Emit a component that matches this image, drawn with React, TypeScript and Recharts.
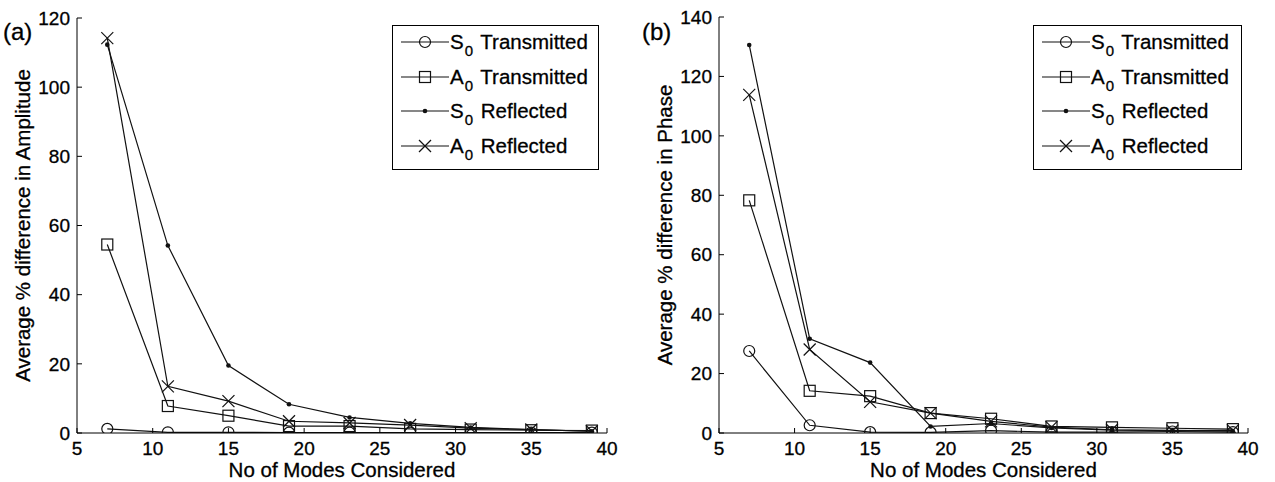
import React from "react";
import { LineChart, Line, XAxis, YAxis, Legend } from "recharts";

// x positions: number of modes considered
const modes = [7, 11, 15, 19, 23, 27, 31, 35, 39];
const xTicks = [5, 10, 15, 20, 25, 30, 35, 40];

// (a) average % difference in amplitude
const ampS0Trans = [1.2, 0.2, 0.2, 0.1, 0.1, 0.1, 0.1, 0.1, 0.1];
const ampA0Trans = [54.5, 7.8, 5.0, 2.0, 2.0, 1.2, 1.0, 0.8, 0.7];
const ampS0Refl = [112.3, 54.2, 19.5, 8.3, 4.5, 2.8, 1.6, 1.0, 0.5];
const ampA0Refl = [114.2, 13.5, 9.2, 3.4, 2.9, 2.3, 1.4, 1.0, 0.5];
const ampTicks = [0, 20, 40, 60, 80, 100, 120];

// (b) average % difference in phase
const phsS0Trans = [27.6, 2.6, 0.3, 0.2, 0.8, 0.3, 0.3, 0.5, 0.3];
const phsA0Trans = [78.3, 14.2, 12.4, 6.7, 4.8, 2.2, 1.9, 1.6, 1.3];
const phsS0Refl = [130.6, 31.7, 23.7, 2.2, 3.2, 1.7, 1.0, 0.9, 0.6];
const phsA0Refl = [113.8, 28.1, 10.5, 6.7, 3.9, 2.0, 1.1, 0.8, 0.9];
const phsTicks = [0, 20, 40, 60, 80, 100, 120, 140];

const seriesKeys = ["s0t", "a0t", "s0r", "a0r"];
const seriesSym = ["S", "A", "S", "A"];
const seriesRest = ["Transmitted", "Transmitted", "Reflected", "Reflected"];
const seriesMarker = ["circle", "square", "dot", "cross"];

const FONT = '"Liberation Sans", Arial, sans-serif';
const INK = "#111";
const SW = 1.2;

function buildRows(vals: number[][]) {
  return modes.map((m, i) => ({
    modes: m,
    s0t: vals[0][i],
    a0t: vals[1][i],
    s0r: vals[2][i],
    a0r: vals[3][i],
  }));
}

function Marker(props: any) {
  const { cx, cy, kind } = props;
  if (cx == null || cy == null) return null;
  if (kind === "circle")
    return <circle cx={cx} cy={cy} r={5.5} fill="none" stroke={INK} strokeWidth={SW} />;
  if (kind === "square")
    return <rect x={cx - 5.5} y={cy - 5.5} width={11} height={11} fill="none" stroke={INK} strokeWidth={SW} />;
  if (kind === "dot") return <circle cx={cx} cy={cy} r={2.3} fill={INK} />;
  return (
    <g stroke={INK} strokeWidth={SW}>
      <line x1={cx - 6} y1={cy - 6} x2={cx + 6} y2={cy + 6} />
      <line x1={cx - 6} y1={cy + 6} x2={cx + 6} y2={cy - 6} />
    </g>
  );
}

function LegendBox({ width }: { width: number }) {
  return (
    <div
      style={{
        width,
        height: 145,
        border: "1px solid #000",
        boxSizing: "border-box",
        background: "#fff",
        fontFamily: FONT,
        fontSize: 20.5,
        color: "#000",
        WebkitTextStroke: "0.3px #000",
      }}
    >
      {seriesKeys.map((k, i) => (
        <div key={k} style={{ height: 34.6, display: "flex", alignItems: "center", marginTop: i === 0 ? -1 : 0 }}>
          <svg width={57} height={20} style={{ flex: "none" }}>
            <line x1={8} x2={56} y1={10} y2={10} stroke={INK} strokeWidth={SW} />
            <Marker cx={32} cy={10} kind={seriesMarker[i]} />
          </svg>
          <span style={{ whiteSpace: "nowrap" }}>
            {seriesSym[i]}
            <span style={{ fontSize: 15, position: "relative", top: 7, marginLeft: 1, marginRight: 2 }}>0</span>{" "}
            {seriesRest[i]}
          </span>
        </div>
      ))}
    </div>
  );
}

function XTitle(props: any) {
  const vb = props.viewBox || {};
  return (
    <text
      x={vb.x + vb.width / 2}
      y={477}
      textAnchor="middle"
      fontSize={20.5}
      fill="#000"
      stroke="#000"
      strokeWidth={0.3}
    >
      No of Modes Considered
    </text>
  );
}

function YTitle(props: any) {
  const vb = props.viewBox || {};
  const cy = vb.y + vb.height / 2;
  const cx = props.cx;
  return (
    <text
      x={cx}
      y={cy}
      transform={`rotate(-90, ${cx}, ${cy})`}
      textAnchor="middle"
      dominantBaseline="central"
      fontSize={20.5}
      fill="#000"
      stroke="#000"
      strokeWidth={0.3}
    >
      {props.text}
    </text>
  );
}

type PanelProps = {
  left: number;
  width: number;
  yAxisWidth: number;
  marginTop: number;
  marginRight: number;
  yMax: number;
  yTicks: number[];
  vals: number[][];
  yTitle: string;
  yTitleX: number;
  legendLeft: number;
  legendWidth: number;
  tag: string;
  tagLeft: number;
};

const tickStyle = { fill: "#000", fontSize: 19, stroke: "#000", strokeWidth: 0.3 };

function Panel(p: PanelProps) {
  const rows = buildRows(p.vals);
  return (
    <div style={{ position: "absolute", left: p.left, top: 0 }}>
      <LineChart
        width={p.width}
        height={482}
        data={rows}
        margin={{ top: p.marginTop, right: p.marginRight, bottom: 0, left: 0 }}
      >
        <XAxis
          xAxisId="b"
          dataKey="modes"
          type="number"
          domain={[5, 40]}
          ticks={xTicks}
          allowDataOverflow
          height={49}
          stroke="#000"
          tickSize={-5}
          tickMargin={14}
          tick={tickStyle}
          label={<XTitle />}
        />
        <XAxis
          xAxisId="t"
          orientation="top"
          dataKey="modes"
          type="number"
          domain={[5, 40]}
          ticks={xTicks}
          allowDataOverflow
          height={0}
          stroke="#000"
          tickSize={-5}
          tickFormatter={() => ""}
        />
        <YAxis
          yAxisId="l"
          type="number"
          domain={[0, p.yMax]}
          ticks={p.yTicks}
          allowDataOverflow
          width={p.yAxisWidth}
          stroke="#000"
          tickSize={-5}
          tickMargin={12}
          tick={tickStyle}
          label={<YTitle text={p.yTitle} cx={p.yTitleX} />}
        />
        <YAxis
          yAxisId="r"
          orientation="right"
          type="number"
          domain={[0, p.yMax]}
          ticks={p.yTicks}
          allowDataOverflow
          width={0}
          stroke="#000"
          tickSize={-5}
          tickFormatter={() => ""}
        />
        <Legend
          layout="vertical"
          align="center"
          verticalAlign="middle"
          wrapperStyle={{ left: p.legendLeft, top: 25, width: p.legendWidth, height: 145 }}
          content={() => <LegendBox width={p.legendWidth} />}
        />
        {seriesKeys.map((k, i) => (
          <Line
            key={k}
            xAxisId="b"
            yAxisId="l"
            type="linear"
            dataKey={k}
            stroke={INK}
            strokeWidth={SW}
            dot={<Marker kind={seriesMarker[i]} />}
            activeDot={false}
            isAnimationActive={false}
          />
        ))}
      </LineChart>
      <div
        style={{
          position: "absolute",
          left: p.tagLeft,
          top: 20,
          fontSize: 24,
          lineHeight: "24px",
          color: "#000",
          WebkitTextStroke: "0.3px #000",
        }}
      >
        {p.tag}
      </div>
    </div>
  );
}

export default function App() {
  return (
    <div
      style={{
        position: "absolute",
        left: 0,
        top: 0,
        width: 1275,
        height: 482,
        background: "#fff",
        fontFamily: FONT,
        overflow: "hidden",
      }}
    >
      <Panel
        left={0}
        width={640}
        yAxisWidth={77}
        marginTop={18}
        marginRight={33}
        yMax={120}
        yTicks={ampTicks}
        vals={[ampS0Trans, ampA0Trans, ampS0Refl, ampA0Refl]}
        yTitle="Average % difference in Amplitude"
        yTitleX={22}
        legendLeft={392}
        legendWidth={207}
        tag="(a)"
        tagLeft={3}
      />
      <Panel
        left={640}
        width={635}
        yAxisWidth={79}
        marginTop={17}
        marginRight={27}
        yMax={140}
        yTicks={phsTicks}
        vals={[phsS0Trans, phsA0Trans, phsS0Refl, phsA0Refl]}
        yTitle="Average % difference in Phase"
        yTitleX={24}
        legendLeft={393}
        legendWidth={209}
        tag="(b)"
        tagLeft={2}
      />
    </div>
  );
}
